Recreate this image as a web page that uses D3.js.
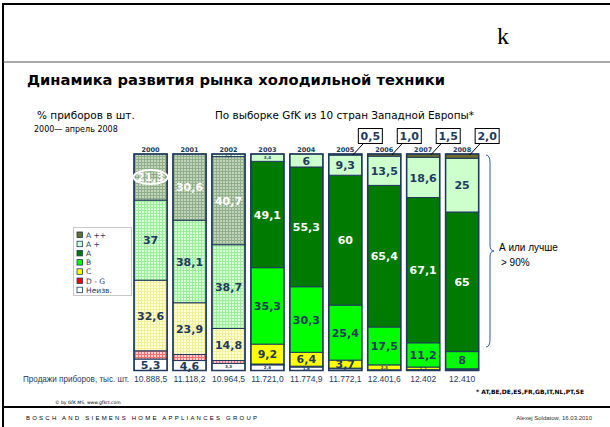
<!DOCTYPE html>
<html>
<head>
<meta charset="utf-8">
<script src="https://cdn.jsdelivr.net/npm/d3@7"></script>
<style>
  body { margin: 0; background: #fff; }
  text { font-family: "DejaVu Sans", Verdana, sans-serif; }
</style>
</head>
<body>
<div id="chart"></div>
<script>

  // ---------------------------//
  //            DATA            //
  // ---------------------------//

  var years = ["2000", "2001", "2002", "2003", "2004", "2005", "2006", "2007", "2008"];
  var sales = ["10.888,5", "11.118,2", "10.964,5", "11.721,0", "11.774,9", "11.772,1", "12.401,6", "12.402", "12.410"];
  var hatchedYears = ["2000", "2001", "2002"];

  // share of appliances by energy class, %
  var classAPP = [0, 0, 0, 0, 0, 0.5, 1.0, 1.5, 2.0];
  var classAP  = [0, 0, 1.2, 3.4, 6, 9.3, 13.5, 18.6, 25];
  var classA   = [21.3, 30.6, 40.7, 49.1, 55.3, 60, 65.4, 67.1, 65];
  var classB   = [37, 38.1, 38.7, 35.3, 30.3, 25.4, 17.5, 11.2, 8];
  var classC   = [32.6, 23.9, 14.8, 9.2, 6.4, 3.7, 2.3, 1.2, 0.5];
  var classDG  = [3.8, 2.8, 1.3, 0.4, 0.4, 0.3, 0.1, 0.1, 0];
  var classUnk = [5.3, 4.6, 3.3, 2.6, 1.6, 0.8, 0.2, 0.3, 0.3];

  var keys = ["unk", "dg", "c", "b", "a", "ap", "app"];
  var legendNames = { app: "A ++", ap: "A +", a: "A", b: "B", c: "C", dg: "D - G", unk: "Неизв." };
  var colors = { app: "#6e6a2c", ap: "#ccffcc", a: "#007a00", b: "#00ff00", c: "#ffff00", dg: "#ff0000", unk: "#ffffff" };

  var rows = years.map(function(y, i) {
    return { year: y, sales: sales[i], app: classAPP[i], ap: classAP[i], a: classA[i], b: classB[i],
             c: classC[i], dg: classDG[i], unk: classUnk[i] };
  });

  // ---------------------------//
  //         DIMENSIONS         //
  // ---------------------------//

  var width = 610;
  var height = 427;
  var navy = "#1f3a5c";

  var svg = d3.select("#chart")
    .append("svg")
    .attr("width", width)
    .attr("height", height);

  // hatched (checkered) patterns for the older years
  var defs = svg.append("defs");
  function checker(id, bg, fg) {
    var p = defs.append("pattern").attr("id", id).attr("patternUnits", "userSpaceOnUse")
      .attr("width", 3).attr("height", 3);
    p.append("rect").attr("width", 3).attr("height", 3).attr("fill", bg);
    p.append("rect").attr("width", 3).attr("height", 1).attr("fill", fg);
    p.append("rect").attr("width", 1).attr("height", 3).attr("fill", fg);
  }
  checker("h_a", "#c4d4bc", "#8fae8a");
  checker("h_ap", "#e6ffe6", "#b5e8b5");
  checker("h_b", "#d6ffd6", "#9cec9c");
  checker("h_c", "#ffffd8", "#f2ef9a");
  checker("h_dg", "#ffd0d0", "#f07070");
  checker("h_unk", "#ffffff", "#ffffff");

  // ---------------------------//
  //           FRAME            //
  // ---------------------------//

  svg.append("rect").attr("x", 3).attr("y", 4).attr("width", 620).attr("height", 440)
    .attr("fill", "none").attr("stroke", "#000").attr("stroke-width", 2);
  svg.append("line").attr("x1", 3).attr("x2", 610).attr("y1", 62).attr("y2", 62)
    .attr("stroke", "#555").attr("stroke-width", 1);
  svg.append("line").attr("x1", 3).attr("x2", 610).attr("y1", 407).attr("y2", 407)
    .attr("stroke", "#000").attr("stroke-width", 2);

  svg.append("text").attr("x", 497).attr("y", 44)
    .style("font-family", "'Liberation Serif', 'DejaVu Serif', serif").style("font-size", "24px").text("k");

  // ---------------------------//
  //            TITLE           //
  // ---------------------------//

  svg.append("text").attr("x", 27).attr("y", 85)
    .style("font-size", "14px").style("font-weight", "bold")
    .attr("textLength", 418).attr("lengthAdjust", "spacingAndGlyphs")
    .text("Динамика развития рынка холодильной техники");

  svg.append("text").attr("x", 37).attr("y", 119).style("font-size", "10.5px")
    .text("% приборов в шт.");
  svg.append("text").attr("x", 34).attr("y", 132).style("font-size", "8px")
    .text("2000— апрель 2008");
  svg.append("text").attr("x", 215).attr("y", 119).style("font-size", "10.5px")
    .attr("textLength", 259).attr("lengthAdjust", "spacingAndGlyphs")
    .text("По выборке GfK из 10 стран Западной Европы*");

  // ---------------------------//
  //       AXIS  AND SCALE      //
  // ---------------------------//

  var x = d3.scaleBand()
    .domain(years)
    .range([128.2, 484.5])
    .padding(0.15);

  var y = d3.scaleLinear()
    .domain([0, 1])
    .range([370.5, 154]);

  var stack = d3.stack().keys(keys).offset(d3.stackOffsetExpand);
  var series = stack(rows);

  function fillFor(key, d) {
    if (hatchedYears.indexOf(d.data.year) >= 0) return "url(#h_" + key + ")";
    return colors[key];
  }

  var layers = svg.selectAll("g.layer")
    .data(series)
    .enter()
    .append("g")
    .attr("class", "layer");

  layers.selectAll("rect")
    .data(function(s) { return s.map(function(d) { d.key = s.key; return d; }); })
    .enter()
    .append("rect")
    .attr("x", function(d) { return x(d.data.year); })
    .attr("y", function(d) { return y(d[1]); })
    .attr("width", x.bandwidth())
    .attr("height", function(d) { return y(d[0]) - y(d[1]); })
    .attr("fill", function(d) { return fillFor(d.key, d); })
    .attr("stroke", navy)
    .attr("stroke-width", function(d) { return d.data[d.key] > 0 ? 1 : 0; });

  // bar outlines
  svg.selectAll("rect.outline")
    .data(rows)
    .enter()
    .append("rect")
    .attr("class", "outline")
    .attr("x", function(d) { return x(d.year); })
    .attr("y", y(1))
    .attr("width", x.bandwidth())
    .attr("height", y(0) - y(1))
    .attr("fill", "none")
    .attr("stroke", navy)
    .attr("stroke-width", 1.5);

  // value labels
  var fmt = function(v) { return String(v).replace(".", ","); };
  var labelData = [];
  series.forEach(function(s) {
    s.forEach(function(d) {
      var v = d.data[s.key];
      if (s.key === "app" || s.key === "dg" || v < 1) return;
      labelData.push({ d: d, key: s.key, v: v });
    });
  });

  svg.selectAll("text.val")
    .data(labelData)
    .enter()
    .append("text")
    .attr("class", "val")
    .attr("x", function(l) { return x(l.d.data.year) + x.bandwidth() / 2; })
    .attr("y", function(l) { return (y(l.d[0]) + y(l.d[1])) / 2; })
    .attr("dy", function(l) { return l.v >= 3.5 ? "0.38em" : "0.35em"; })
    .attr("text-anchor", "middle")
    .style("font-size", function(l) { return l.v >= 3.5 ? "11px" : "4px"; })
    .style("font-weight", "bold")
    .attr("fill", function(l) { return l.key === "a" ? "#ffffff" : navy; })
    .text(function(l) { return fmt(l.v); });

  // ellipse around first value
  var first = series[keys.indexOf("a")][0];
  svg.append("ellipse")
    .attr("cx", x("2000") + x.bandwidth() / 2)
    .attr("cy", (y(first[0]) + y(first[1])) / 2)
    .attr("rx", 17).attr("ry", 7)
    .attr("fill", "none").attr("stroke", "#fff").attr("stroke-width", 2);

  // year labels
  svg.selectAll("text.year")
    .data(years)
    .enter()
    .append("text")
    .attr("class", "year")
    .attr("x", function(d) { return x(d) + x.bandwidth() / 2; })
    .attr("y", 152)
    .attr("text-anchor", "middle")
    .style("font-size", "6.5px")
    .style("font-weight", "bold")
    .attr("fill", navy)
    .text(function(d) { return d; });

  // A++ callouts
  var callouts = rows.filter(function(d) { return d.app > 0; });
  var cg = svg.selectAll("g.callout")
    .data(callouts)
    .enter()
    .append("g")
    .attr("class", "callout");
  cg.append("line")
    .attr("x1", function(d) { return x(d.year) + x.bandwidth() + 2; })
    .attr("y1", 143)
    .attr("x2", function(d) { return x(d.year) + x.bandwidth() - 9; })
    .attr("y2", y(1) + 1)
    .attr("stroke", "#000").attr("stroke-width", 1);
  cg.append("rect")
    .attr("x", function(d) { return x(d.year) + x.bandwidth() - 3.5; })
    .attr("y", 128.5)
    .attr("width", 24).attr("height", 15)
    .attr("fill", "#fff").attr("stroke", "#000").attr("stroke-width", 1);
  cg.append("text")
    .attr("x", function(d) { return x(d.year) + x.bandwidth() + 8.5; })
    .attr("y", 140)
    .attr("text-anchor", "middle")
    .style("font-size", "11px").style("font-weight", "bold")
    .attr("fill", navy)
    .text(function(d) { return d.app.toFixed(1).replace(".", ","); });

  // sales row
  svg.append("text").attr("x", 23).attr("y", 382)
    .style("font-family", "'Liberation Sans', Arial, sans-serif").style("font-size", "8.5px").attr("fill", navy)
    .attr("textLength", 106).attr("lengthAdjust", "spacingAndGlyphs")
    .text("Продажи приборов, тыс. шт.");
  svg.selectAll("text.sales")
    .data(rows)
    .enter()
    .append("text")
    .attr("class", "sales")
    .attr("x", function(d) { return x(d.year) + x.bandwidth() / 2; })
    .attr("y", 382)
    .attr("text-anchor", "middle")
    .style("font-family", "'Liberation Sans', Arial, sans-serif")
    .style("font-size", "8.5px")
    .attr("fill", navy)
    .text(function(d) { return d.sales; });

  // ---------------------------//
  //           LEGEND           //
  // ---------------------------//

  var legendKeys = keys.slice().reverse();
  svg.append("rect").attr("x", 73.5).attr("y", 227.5).attr("width", 58).attr("height", 68)
    .attr("fill", "#fff").attr("stroke", "#c8c8c8");
  var lg = svg.selectAll("g.leg")
    .data(legendKeys)
    .enter()
    .append("g")
    .attr("class", "leg")
    .attr("transform", function(d, i) { return "translate(77," + (232 + i * 9.2) + ")"; });
  lg.append("rect").attr("width", 5.5).attr("height", 5.5)
    .attr("fill", function(d) { return colors[d]; })
    .attr("stroke", navy).attr("stroke-width", 0.8);
  lg.append("text").attr("x", 9).attr("y", 5.5).style("font-size", "7.5px").attr("fill", navy)
    .text(function(d) { return legendNames[d]; });

  // ---------------------------//
  //        BRACE + NOTE        //
  // ---------------------------//

  var yTop = y(1) + 1, yBot = 347, yMid = 251;
  svg.append("path")
    .attr("d", "M486," + yTop + " Q490," + yTop + " 490," + (yTop + 8) +
               " L490," + (yMid - 6) + " Q490," + yMid + " 494," + yMid +
               " Q490," + yMid + " 490," + (yMid + 6) +
               " L490," + (yBot - 8) + " Q490," + yBot + " 486," + yBot)
    .attr("fill", "none").attr("stroke", "#2a5caa").attr("stroke-width", 1);
  svg.append("text").attr("x", 499).attr("y", 251)
    .style("font-family", "'Liberation Sans', Arial, sans-serif").style("font-size", "10px")
    .text("А или лучше");
  svg.append("text").attr("x", 501).attr("y", 266)
    .style("font-family", "'Liberation Sans', Arial, sans-serif").style("font-size", "10px")
    .text("> 90%");

  // ---------------------------//
  //          FOOTNOTES         //
  // ---------------------------//

  svg.append("text").attr("x", 476).attr("y", 394).style("font-size", "6px").style("font-weight", "bold")
    .attr("textLength", 108).attr("lengthAdjust", "spacingAndGlyphs")
    .text("* AT,BE,DE,ES,FR,GB,IT,NL,PT,SE");
  svg.append("text").attr("x", 55).attr("y", 404).style("font-size", "4.5px")
    .text("© by GfK MS, www.gfkrt.com");
  svg.append("text").attr("x", 26).attr("y", 420)
    .style("font-family", "'Liberation Sans', Arial, sans-serif").style("font-size", "6px")
    .attr("textLength", 231).attr("lengthAdjust", "spacing")
    .text("BOSCH AND SIEMENS HOME APPLIANCES GROUP");
  svg.append("text").attr("x", 592).attr("y", 420).attr("text-anchor", "end")
    .style("font-family", "'Liberation Sans', Arial, sans-serif").style("font-size", "6px")
    .attr("fill", "#333")
    .text("Alexej Soldatow, 16.03.2010");

</script>
</body>
</html>
